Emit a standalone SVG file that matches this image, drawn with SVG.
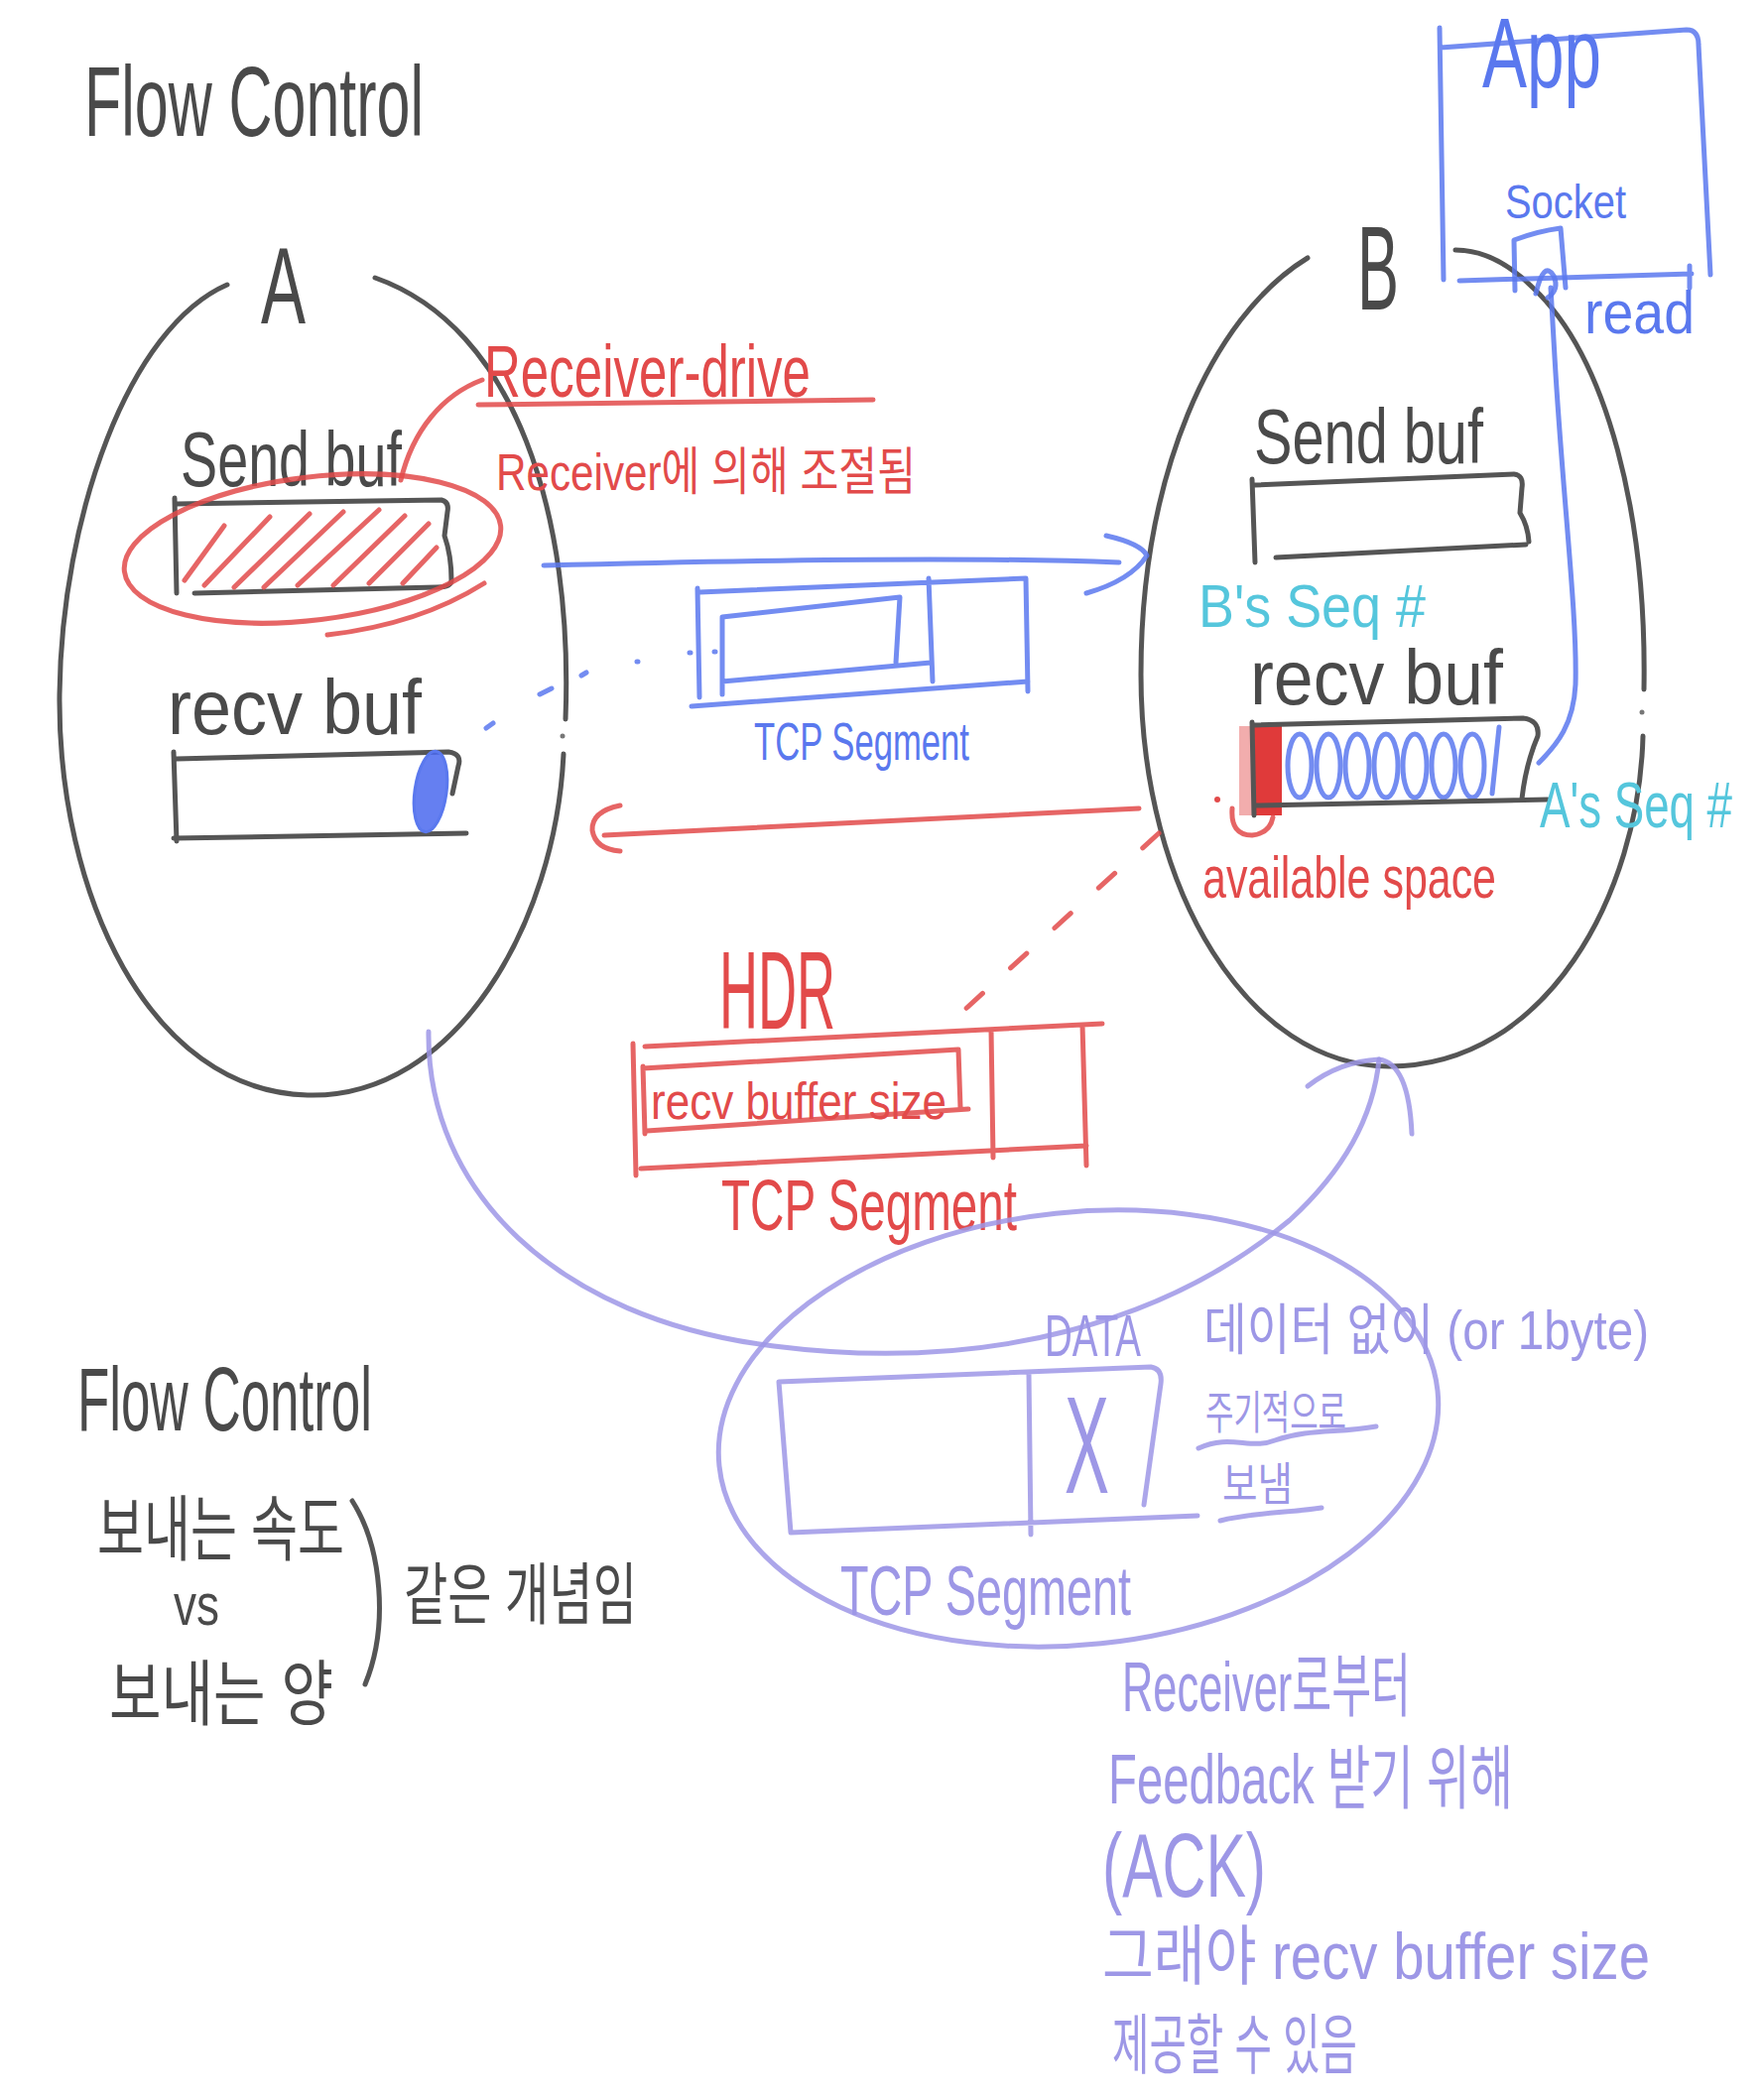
<svg xmlns="http://www.w3.org/2000/svg" width="1778" height="2116" viewBox="0 0 1778 2116">
<defs>
<style>
.p{fill:none;stroke-linecap:round;stroke-linejoin:round}
.k{stroke:#555;stroke-width:5}
.r{stroke:#e24a4a;stroke-width:5;stroke-opacity:.85}
.b{stroke:#5a78ee;stroke-width:5;stroke-opacity:.85}
.v{stroke:#9d97e6;stroke-width:5;stroke-opacity:.85}
text{font-family:"Liberation Sans","Noto Sans CJK KR",sans-serif}
.tk{fill:#4a4a4a}
.tr{fill:#e24a4a}
.tb{fill:#5a78ee}
.tc{fill:#55c6dc}
.tv{fill:#9d97e6}
</style>
</defs>
<rect width="1778" height="2116" fill="#fff"/>

<g id="title">
<text class="tk" x="85" y="137" font-size="100" textLength="342" lengthAdjust="spacingAndGlyphs">Flow Control</text>
</g>

<g id="hostA">
<path class="p k" d="M229 287 C130 330 62 520 60 700 C58 900 150 1100 310 1104 C460 1108 560 930 568 760 M570 725 C578 520 520 330 378 280"/>
<circle cx="567" cy="742" r="2.5" fill="#777"/>
<text class="tk" x="263" y="326" font-size="110" textLength="45" lengthAdjust="spacingAndGlyphs">A</text>
</g>

<g id="A-sendbuf">
<text class="tk" x="182" y="490" font-size="78" textLength="223" lengthAdjust="spacingAndGlyphs">Send buf</text>
<path class="p k" d="M176 502 L178 598 M178 508 L445 504 Q453 506 451 516 L448 540 Q455 560 455 585 Q455 592 440 592 L196 598"/>
<path class="p r" stroke-width="4" d="M186 585 L226 530 M206 590 L272 521 M236 592 L312 518 M266 592 L346 516 M300 590 L382 514 M336 590 L408 520 M372 588 L432 528 M406 588 L440 552"/>
</g>

<g id="A-recvbuf">
<text class="tk" x="169" y="740" font-size="78" textLength="256" lengthAdjust="spacingAndGlyphs">recv buf</text>
<path class="p k" d="M175 758 L178 848 M178 765 L452 758 Q466 760 462 772 L456 800 M175 845 L470 840"/>
<ellipse cx="434" cy="798" rx="16" ry="41" transform="rotate(8 434 798)" fill="#4a68ee" fill-opacity=".85" stroke="#5a78ee" stroke-width="3"/>
</g>

<g id="receiver-drive">
<ellipse class="p r" cx="315" cy="553" rx="191" ry="72" transform="rotate(-7 315 553)"/>
<path class="p r" d="M330 640 C400 632 450 612 488 588"/>
<path class="p r" d="M404 484 C416 434 446 398 486 383"/>
<text class="tr" x="488" y="400" font-size="74" textLength="329" lengthAdjust="spacingAndGlyphs">Receiver-drive</text>
<path class="p r" d="M482 408 L880 403"/>
<text class="tr" x="500" y="494" font-size="52" textLength="423" lengthAdjust="spacingAndGlyphs">Receiver에 의해 조절됨</text>
</g>

<g id="hostB">
<path class="p k" d="M1318 260 C1220 320 1150 480 1150 680 C1150 900 1260 1075 1400 1075 C1560 1075 1652 900 1656 742 M1657 695 C1660 520 1620 360 1545 290 C1520 265 1495 252 1467 252"/>
<circle cx="1655" cy="718" r="2.5" fill="#777"/>
<text class="tk" x="1368" y="312" font-size="120" textLength="42" lengthAdjust="spacingAndGlyphs">B</text>
</g>

<g id="B-sendbuf">
<text class="tk" x="1264" y="467" font-size="78" textLength="231" lengthAdjust="spacingAndGlyphs">Send buf</text>
<path class="p k" d="M1262 483 L1265 567 M1264 489 L1526 478 Q1536 479 1534 492 L1532 517 Q1540 530 1541 546 M1286 562 L1538 549"/>
<text class="tc" x="1208" y="632" font-size="62" textLength="229" lengthAdjust="spacingAndGlyphs">B's Seq #</text>
</g>

<g id="B-recvbuf">
<text class="tk" x="1260" y="710" font-size="78" textLength="255" lengthAdjust="spacingAndGlyphs">recv buf</text>
<rect x="1249" y="732" width="13" height="90" fill="#e24a4a" fill-opacity=".45"/>
<rect x="1262" y="730" width="30" height="92" fill="#e03a3a"/>
<g class="p b" stroke-width="4">
<ellipse cx="1310" cy="772" rx="12" ry="32"/>
<ellipse cx="1339" cy="772" rx="12" ry="32"/>
<ellipse cx="1368" cy="772" rx="12" ry="32"/>
<ellipse cx="1397" cy="772" rx="12" ry="32"/>
<ellipse cx="1426" cy="772" rx="12" ry="32"/>
<ellipse cx="1455" cy="772" rx="12" ry="32"/>
<ellipse cx="1484" cy="772" rx="12" ry="32"/>
<path d="M1511 733 L1504 800"/>
</g>
<path class="p k" d="M1262 728 L1264 822 M1264 731 L1535 724 Q1552 726 1550 742 Q1538 770 1534 805 M1266 812 L1560 806"/>
<path class="p r" d="M1242 815 Q1240 842 1262 842 Q1280 840 1283 824"/>
<circle cx="1227" cy="806" r="3" fill="#e24a4a"/>
<text class="tc" x="1552" y="834" font-size="64" textLength="194" lengthAdjust="spacingAndGlyphs">A's Seq #</text>
<text class="tr" x="1212" y="905" font-size="60" textLength="296" lengthAdjust="spacingAndGlyphs">available space</text>
</g>

<g id="app">
<path class="p b" d="M1451 28 L1455 282 M1452 48 L1700 30 Q1712 30 1712 45 L1724 277 M1471 283 L1705 276 M1703 268 L1703 290"/>
<text class="tb" x="1494" y="88" font-size="100" textLength="120" lengthAdjust="spacingAndGlyphs">App</text>
<text class="tb" x="1517" y="220" font-size="48" textLength="122" lengthAdjust="spacingAndGlyphs">Socket</text>
<path class="p b" d="M1527 293 L1526 242 Q1550 233 1573 230 L1578 290"/>
<path class="p b" d="M1548 296 Q1556 262 1566 278 Q1572 292 1560 300"/>
<text class="tb" x="1597" y="336" font-size="62" textLength="111" lengthAdjust="spacingAndGlyphs">read</text>
</g>

<g id="seg-data">
<path class="p b" d="M703 593 L705 703 M705 597 L1034 583 L1036 697 M697 712 L1036 687 M728 623 L728 700 M728 622 L907 602 L903 668 M728 687 L938 668 M936 583 L940 687"/>
<text class="tb" x="760" y="766" font-size="54" textLength="217" lengthAdjust="spacingAndGlyphs">TCP Segment</text>
</g>

<g id="seg-hdr">
<text class="tr" x="725" y="1037" font-size="112" textLength="117" lengthAdjust="spacingAndGlyphs">HDR</text>
<path class="p r" d="M638 1052 L641 1185 M650 1055 L1111 1032 M646 1178 L1095 1155 M999 1038 L1001 1167 M1091 1033 L1095 1175 M648 1075 L650 1143 M648 1077 L966 1058 L968 1117 M652 1140 L976 1118"/>
<text class="tr" x="656" y="1128" font-size="52" textLength="298" lengthAdjust="spacingAndGlyphs">recv buffer size</text>
<text class="tr" x="727" y="1240" font-size="72" textLength="298" lengthAdjust="spacingAndGlyphs">TCP Segment</text>
</g>

<g id="probe">
<ellipse class="p v" cx="1087" cy="1440" rx="364" ry="218" transform="rotate(-6 1087 1440)"/>
<path class="p v" d="M785 1393 L797 1545 M785 1393 L1160 1378 Q1172 1380 1170 1395 L1153 1517 M797 1545 L1207 1528 M1037 1385 L1039 1547"/>
<text class="tv" x="1053" y="1367" font-size="60" textLength="97" lengthAdjust="spacingAndGlyphs">DATA</text>
<text class="tv" x="1073" y="1505" font-size="140" textLength="45" lengthAdjust="spacingAndGlyphs">X</text>
<text class="tv" x="847" y="1628" font-size="70" textLength="293" lengthAdjust="spacingAndGlyphs">TCP Segment</text>
<text class="tv" x="1213" y="1360" font-size="56" textLength="449" lengthAdjust="spacingAndGlyphs">데이터 없이 (or 1byte)</text>
<text class="tv" x="1215" y="1440" font-size="46" textLength="142" lengthAdjust="spacingAndGlyphs">주기적으로</text>
<path class="p v" d="M1208 1460 C1240 1445 1260 1462 1285 1452 C1320 1440 1350 1445 1387 1438"/>
<text class="tv" x="1232" y="1512" font-size="46" textLength="71" lengthAdjust="spacingAndGlyphs">보냄</text>
<path class="p v" d="M1230 1533 C1260 1525 1300 1525 1332 1520"/>
</g>

<g id="notes">
<text class="tk" x="78" y="1442" font-size="90" textLength="297" lengthAdjust="spacingAndGlyphs">Flow Control</text>
<text class="tk" x="98" y="1567" font-size="72" textLength="249" lengthAdjust="spacingAndGlyphs">보내는 속도</text>
<text class="tk" x="175" y="1638" font-size="60" textLength="46" lengthAdjust="spacingAndGlyphs">vs</text>
<text class="tk" x="110" y="1733" font-size="72" textLength="226" lengthAdjust="spacingAndGlyphs">보내는 양</text>
<path class="p k" d="M355 1513 C385 1560 392 1640 368 1698"/>
<text class="tk" x="407" y="1632" font-size="68" textLength="235" lengthAdjust="spacingAndGlyphs">같은 개념임</text>
</g>

<g id="feedback">
<text class="tv" x="1131" y="1725" font-size="70" textLength="291" lengthAdjust="spacingAndGlyphs">Receiver로부터</text>
<text class="tv" x="1117" y="1818" font-size="70" textLength="408" lengthAdjust="spacingAndGlyphs">Feedback 받기 위해</text>
<text class="tv" x="1111" y="1912" font-size="90" textLength="165" lengthAdjust="spacingAndGlyphs">(ACK)</text>
<text class="tv" x="1111" y="1995" font-size="66" textLength="552" lengthAdjust="spacingAndGlyphs">그래야 recv buffer size</text>
<text class="tv" x="1121" y="2085" font-size="66" textLength="247" lengthAdjust="spacingAndGlyphs">제공할 수 있음</text>
</g>

<g id="connectors">
<path class="p b" d="M548 570 C700 566 950 560 1128 567"/>
<path class="p b" d="M1115 540 Q1150 548 1156 560 Q1140 585 1095 598"/>
<path class="p b" stroke-width="6" d="M490 734 L497 729 M544 700 L556 694 M586 681 L591 678 M642 667 L643 667 M695 658 L696 658 M720 657 L721 657"/>
<path class="p b" d="M1563 290 L1567 360 C1575 500 1590 620 1588 690 C1586 730 1570 750 1551 769"/>
<path class="p r" d="M1148 815 L609 842"/>
<path class="p r" d="M625 812 Q596 818 597 837 Q600 856 625 858"/>
<path class="p r" stroke-dasharray="22 38" d="M1168 840 L948 1040"/>
<path class="p v" d="M432 1040 C430 1200 560 1330 780 1357 C1000 1385 1180 1330 1300 1230 C1360 1175 1385 1120 1390 1068"/>
<path class="p v" d="M1318 1095 Q1350 1070 1390 1068 Q1420 1072 1423 1143"/>
</g>
</svg>
